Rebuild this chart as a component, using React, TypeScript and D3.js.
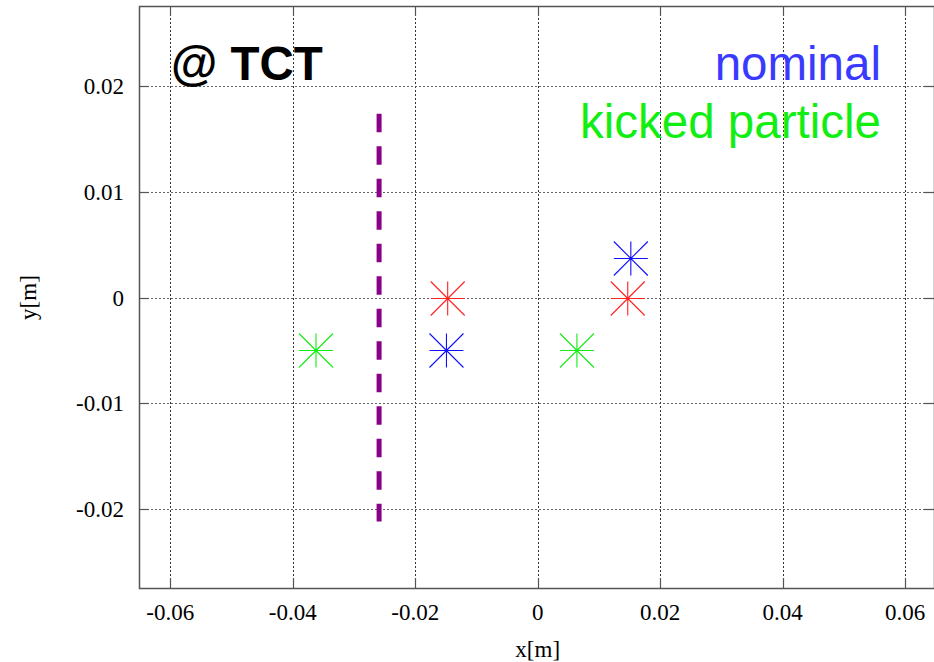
import * as d3 from 'd3';
import React, { useEffect, useRef } from 'react';

// tick values
const xTicks = [-0.06, -0.04, -0.02, 0, 0.02, 0.04, 0.06];
const yTicks = [-0.02, -0.01, 0, 0.01, 0.02];

// marker positions [x, y]
const nominalPts = [
	[-0.0149, -0.005],
	[0.0152, 0.0037],
];
const kickedPts = [
	[-0.0362, -0.005],
	[0.0064, -0.005],
];
const refPts = [
	[-0.0147, 0],
	[0.0147, 0],
];

// collimator jaw (dashed line)
const jawX = -0.0259;
const jawY = [0.0174, -0.0212];

const W = 934;
const H = 662;
const margin = { top: 6, right: 0, bottom: 74, left: 139 };

export default function App() {
	const ref = useRef<SVGSVGElement>(null);

	useEffect(() => {
		const svg = d3.select(ref.current);
		svg.selectAll('*').remove();

		const x = d3
			.scaleLinear()
			.domain([-0.0651, 0.0647])
			.range([margin.left, W - margin.right]);
		const y = d3
			.scaleLinear()
			.domain([-0.0275, 0.0276])
			.range([H - margin.bottom, margin.top]);

		const [x0, x1] = x.range();
		const [y1, y0] = y.range();
		const px = (v: number) => Math.round(x(v)) + 0.5;
		const py = (v: number) => Math.round(y(v)) + 0.5;

		// grid
		const grid = svg.append('g').attr('stroke', '#333').attr('stroke-dasharray', '2,2').attr('stroke-width', 1);
		grid.selectAll('.gx')
			.data(xTicks)
			.join('line')
			.attr('x1', (d: any) => px(d))
			.attr('x2', (d: any) => px(d))
			.attr('y1', y0)
			.attr('y2', y1);
		grid.selectAll('.gy')
			.data(yTicks)
			.join('line')
			.attr('stroke', '#666')
			.attr('x1', x0)
			.attr('x2', x1)
			.attr('y1', (d: any) => py(d))
			.attr('y2', (d: any) => py(d));

		// ticks (inward, mirrored)
		const tk = svg.append('g').attr('stroke', '#555').attr('stroke-width', 1.2);
		xTicks.forEach(d => {
			tk.append('line').attr('x1', px(d)).attr('x2', px(d)).attr('y1', y1).attr('y2', y1 - 10);
			tk.append('line').attr('x1', px(d)).attr('x2', px(d)).attr('y1', y0).attr('y2', y0 + 10);
		});
		yTicks.forEach(d => {
			tk.append('line').attr('x1', x0).attr('x2', x0 + 10).attr('y1', py(d)).attr('y2', py(d));
			tk.append('line').attr('x1', x1).attr('x2', x1 - 10).attr('y1', py(d)).attr('y2', py(d));
		});

		// frame
		svg.append('rect')
			.attr('x', x0 + 0.5)
			.attr('y', y0 + 0.5)
			.attr('width', x1 - x0)
			.attr('height', y1 - y0)
			.attr('fill', 'none')
			.attr('stroke', '#555')
			.attr('stroke-width', 1.5);

		// tick labels
		svg.append('g')
			.attr('font-family', '"Liberation Serif", "Times New Roman", serif')
			.attr('font-size', 23)
			.attr('text-anchor', 'middle')
			.selectAll('text')
			.data(xTicks)
			.join('text')
			.attr('x', (d: any) => x(d))
			.attr('y', 620)
			.text((d: any) => String(d));
		svg.append('g')
			.attr('font-family', '"Liberation Serif", "Times New Roman", serif')
			.attr('font-size', 23)
			.attr('text-anchor', 'end')
			.selectAll('text')
			.data(yTicks)
			.join('text')
			.attr('x', 124)
			.attr('y', (d: any) => y(d) + 8)
			.text((d: any) => String(d));

		// axis titles
		svg.append('text')
			.attr('font-family', '"Liberation Serif", serif')
			.attr('font-size', 23)
			.attr('text-anchor', 'middle')
			.attr('x', x(0))
			.attr('y', 657)
			.text('x[m]');
		svg.append('text')
			.attr('font-family', '"Liberation Serif", serif')
			.attr('font-size', 23)
			.attr('text-anchor', 'middle')
			.attr('transform', `translate(36,${y(0)}) rotate(-90)`)
			.text('y[m]');

		// jaw line
		svg.append('line')
			.attr('x1', x(jawX))
			.attr('x2', x(jawX))
			.attr('y1', y(jawY[0]))
			.attr('y2', y(jawY[1]))
			.attr('stroke', '#8b008b')
			.attr('stroke-width', 5)
			.attr('stroke-dasharray', '18.5,14');

		// asterisk markers
		const r = 17;
		const star = (pts: number[][], color: string) => {
			const g = svg.append('g').attr('stroke', color).attr('stroke-width', 1.1).attr('fill', 'none');
			g.selectAll('path')
				.data(pts)
				.join('path')
				.attr('d', (d: any) => {
					const cx = x(d[0]);
					const cy = py(d[1]);
					return `M${cx - r},${cy}H${cx + r}M${cx},${cy - r}V${cy + r}` +
						`M${cx - r},${cy - r}L${cx + r},${cy + r}M${cx - r},${cy + r}L${cx + r},${cy - r}`;
				});
		};
		star(refPts, '#ff2020');
		star(nominalPts, '#1010ff');
		star(kickedPts, '#11ee11');

		// labels
		svg.append('text')
			.attr('font-family', '"Liberation Sans", Arial, sans-serif')
			.attr('font-weight', 'bold')
			.attr('font-size', 47.5)
			.attr('x', 171)
			.attr('y', 80)
			.attr('fill', '#000')
			.text('@ TCT');
		svg.append('text')
			.attr('font-family', '"Liberation Sans", Arial, sans-serif')
			.attr('font-size', 47.5)
			.attr('text-anchor', 'end')
			.attr('x', 881)
			.attr('y', 80)
			.attr('fill', '#3a3aff')
			.text('nominal');
		svg.append('text')
			.attr('font-family', '"Liberation Sans", Arial, sans-serif')
			.attr('font-size', 47.5)
			.attr('text-anchor', 'end')
			.attr('x', 881)
			.attr('y', 138)
			.attr('fill', '#11ee11')
			.text('kicked particle');
	}, []);

	return (
		<svg
			ref={ref}
			width={W}
			height={H}
			style={{ position: 'absolute', left: 0, top: 0, background: '#fff' }}
		/>
	);
}
